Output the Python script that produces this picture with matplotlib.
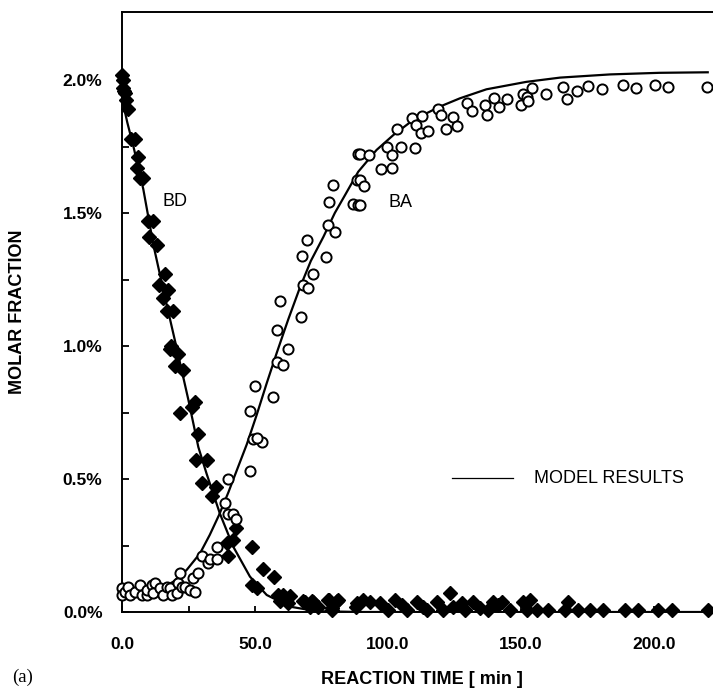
import matplotlib
matplotlib.use("Agg")
import matplotlib.pyplot as plt
from matplotlib.ticker import MultipleLocator, FuncFormatter, FixedLocator

# ---- data (time in min, molar fraction in %) ----
bd_t = [0, 0.3, 0.5, 0.8, 1.2, 1.6, 2.3, 3.5, 4.8, 5.6, 6.0, 6.8, 7.9, 9.8, 11.7, 10.2,
        13.2, 16.2, 14.0, 15.4, 17.3, 16.8, 19.3, 18.3, 18.0, 21.0, 20.0, 23.0, 21.8, 26.2,
        27.4, 28.6, 28.0, 32.0, 30.0, 35.3, 33.7, 43.0, 39.4, 41.8, 40.0, 48.8, 53.0, 57.0,
        49.0, 50.6, 58.7, 60.6, 63.0, 59.4, 68.0, 71.4, 78.0, 80.7, 79.0, 70.6, 88.0,
        62.4, 68.8, 71.8, 73.7, 77.4, 78.9, 81.2, 88.3, 90.6, 93.2, 97.0, 100.0, 102.6,
        105.3, 107.1, 110.9, 113.2, 114.7, 118.4, 120.7, 123.3, 124.4, 127.8, 128.9, 131.9,
        134.6, 137.6, 139.5, 141.4, 143.0, 146.0, 150.8, 153.4, 152.3, 156.0, 160.0, 166.5,
        167.7, 171.4, 176.0, 180.8, 189.0, 194.0, 201.5, 206.8, 220.3]
bd_v = [2.02, 2.00, 1.97, 1.96, 1.95, 1.925, 1.89, 1.78, 1.78, 1.67, 1.71, 1.63, 1.63, 1.47,
        1.47, 1.41, 1.38, 1.27, 1.23, 1.18, 1.21, 1.13, 1.13, 1.00, 0.99, 0.97, 0.925, 0.91,
        0.75, 0.77, 0.79, 0.67, 0.57, 0.57, 0.485, 0.47, 0.435, 0.315, 0.26, 0.27, 0.21,
        0.245, 0.16, 0.13, 0.10, 0.09, 0.064, 0.064, 0.06, 0.04, 0.04, 0.04, 0.045, 0.04,
        0.015, 0.02, 0.02,
        0.033, 0.039, 0.039, 0.02, 0.045, 0.008, 0.045, 0.033, 0.045, 0.039, 0.033, 0.008,
        0.045, 0.026, 0.008, 0.039, 0.02, 0.008, 0.039, 0.008, 0.07, 0.02, 0.033, 0.008,
        0.039, 0.014, 0.008, 0.039, 0.026, 0.039, 0.008, 0.039, 0.045, 0.008, 0.008, 0.008,
        0.008, 0.039, 0.008, 0.008, 0.008, 0.008, 0.008, 0.008, 0.008, 0.008]

ba_t = [0, 0, 1.1, 2.4, 3.0, 4.9, 6.8, 7.4, 9.3, 9.3, 11.2, 12.4, 11.8, 14.3, 15.5, 16.8,
        18.0, 18.7, 20.6, 21.2, 21.8, 22.4, 23.7, 25.6, 27.4, 26.8, 28.7, 30.0, 32.4, 33.0,
        35.6, 35.6, 38.7, 40.0, 41.8, 42.9, 40.0, 48.1, 49.4, 52.5, 50.0, 48.1, 50.6, 56.8,
        58.2, 60.4, 62.5, 59.4, 67.2, 58.2, 68.2, 70.0, 71.9, 67.5, 76.7, 69.4, 77.6, 80.0,
        78.0, 79.2, 87.0, 88.8, 88.2, 88.8, 89.5, 93.0, 89.5, 91.0, 89.5, 99.5, 101.4, 104.8,
        97.3, 101.4, 103.5, 108.9, 110.5, 110.2, 112.7, 112.4, 114.9, 118.9, 119.8, 121.8,
        124.6, 126.1, 129.6, 131.5, 136.5, 137.1, 139.8, 141.8, 144.6, 149.9, 150.6, 152.1,
        152.8, 154.3, 159.3, 165.9, 167.2, 170.9, 175.3, 180.3, 188.5, 193.2, 200.4, 205.4,
        219.8]
ba_v = [0.089, 0.064, 0.076, 0.095, 0.064, 0.076, 0.10, 0.064, 0.064, 0.083, 0.10, 0.108,
        0.07, 0.089, 0.064, 0.095, 0.089, 0.064, 0.07, 0.108, 0.145, 0.095, 0.095, 0.083,
        0.076, 0.127, 0.145, 0.21, 0.183, 0.20, 0.20, 0.245, 0.41, 0.37, 0.37, 0.35, 0.50,
        0.53, 0.65, 0.64, 0.85, 0.755, 0.655, 0.81, 0.94, 0.93, 0.99, 1.17, 1.11, 1.06, 1.23,
        1.217, 1.27, 1.34, 1.335, 1.40, 1.455, 1.43, 1.54, 1.605, 1.534, 1.53, 1.624, 1.72,
        1.72, 1.718, 1.624, 1.60, 1.53, 1.747, 1.718, 1.75, 1.665, 1.67, 1.815, 1.856, 1.83,
        1.743, 1.865, 1.80, 1.81, 1.89, 1.87, 1.815, 1.86, 1.827, 1.912, 1.883, 1.905, 1.868,
        1.931, 1.90, 1.927, 1.906, 1.946, 1.935, 1.92, 1.969, 1.947, 1.975, 1.93, 1.958,
        1.977, 1.966, 1.98, 1.97, 1.98, 1.975, 1.975]

bd_model_t = [0, 2, 4.3, 8, 11.8, 16, 20.6, 24.9, 28.7, 31.8, 36.8, 41.8, 48.1, 54.4, 63.2,
              73.2, 90, 220]
bd_model_v = [1.93, 1.84, 1.75, 1.59, 1.38, 1.19, 0.99, 0.80, 0.62, 0.52, 0.37, 0.246,
              0.133, 0.064, 0.02, 0.003, 0.0, 0.0]

ba_model_t = [0, 10, 16, 19.3, 24.3, 29.3, 33, 36.5, 40, 41.9, 46.9, 50.6, 54.4, 58.2, 62.5,
              66.9, 71, 75.7, 80, 84, 88.8, 95.7, 102, 109.5, 119.5, 127, 137, 152, 164.7,
              183.5, 202, 220.2]
ba_model_v = [0.075, 0.082, 0.095, 0.114, 0.158, 0.22, 0.29, 0.365, 0.45, 0.50, 0.63, 0.74,
              0.86, 0.975, 1.10, 1.22, 1.32, 1.41, 1.50, 1.57, 1.655, 1.737, 1.793, 1.85,
              1.90, 1.931, 1.965, 1.993, 2.009, 2.021, 2.027, 2.029]

x_ticks = [0, 50, 100, 150, 200]
y_ticks = [0.0, 0.5, 1.0, 1.5, 2.0]

# ---- figure ----
W, H = 713, 689
fig = plt.figure(figsize=(W / 100, H / 100), dpi=100)
ax = fig.add_axes([122 / W, (H - 612) / H, (W - 122) / W, 600 / H])

sans = "Liberation Sans"

ax.plot(bd_model_t, bd_model_v, color="black", lw=1.6, zorder=2)
ax.plot(ba_model_t, ba_model_v, color="black", lw=1.6, zorder=2)
ax.plot(bd_t, bd_v, ls="none", marker="D", ms=7.0, color="black", zorder=3, clip_on=False)
ax.plot(ba_t, ba_v, ls="none", marker="o", ms=7.3, mfc="white", mec="black", mew=1.4,
        zorder=4, clip_on=False)

ax.set_xlim(0, (W - 122) / 2.66)
ax.set_ylim(0, 600 / 266)

ax.spines["right"].set_visible(False)
for s in ["left", "bottom", "top"]:
    ax.spines[s].set_linewidth(1.4)

ax.set_xticks(x_ticks)
ax.xaxis.set_minor_locator(MultipleLocator(25))
ax.set_yticks(y_ticks)
ax.yaxis.set_minor_locator(FixedLocator([0.25, 0.75, 1.25, 1.75]))
ax.xaxis.set_major_formatter(FuncFormatter(lambda v, p: f"{v:.1f}"))
ax.yaxis.set_major_formatter(FuncFormatter(lambda v, p: f"{v:.1f}%"))
ax.tick_params(axis="both", which="both", direction="in", width=1.3,
               top=False, right=False)
ax.tick_params(axis="y", which="both", length=5)
ax.tick_params(axis="x", which="both", length=4)
ax.tick_params(axis="x", pad=18)
ax.tick_params(axis="y", pad=14)
for lab in ax.get_xticklabels() + ax.get_yticklabels():
    lab.set_fontfamily(sans)
    lab.set_fontweight("bold")
    lab.set_fontsize(12.5)

# curve labels
ax.text(15.4, 1.545, "BD", fontsize=13, family=sans, va="center", ha="left")
ax.text(100, 1.54, "BA", fontsize=13, family=sans, va="center", ha="left")

# legend-like annotation
ax.plot([(452 - 122) / 2.66, (513 - 122) / 2.66], [0.503, 0.503], color="black", lw=0.9)
ax.text((534 - 122) / 2.66, 0.503, "MODEL RESULTS", fontsize=13, family=sans,
        va="center", ha="left")

# axis labels
fig.text(422 / W, 1 - 679 / H, "REACTION TIME [ min ]", fontsize=13, family=sans,
         fontweight="bold", ha="center", va="center")
fig.text(18 / W, 1 - 312 / H, "MOLAR FRACTION", fontsize=13, family=sans,
         fontweight="bold", ha="center", va="center", rotation=90)
fig.text(12 / W, 1 - 677 / H, "(a)", fontsize=13.5, family="Liberation Serif",
         ha="left", va="center")

fig.savefig("out.png", dpi=100)
